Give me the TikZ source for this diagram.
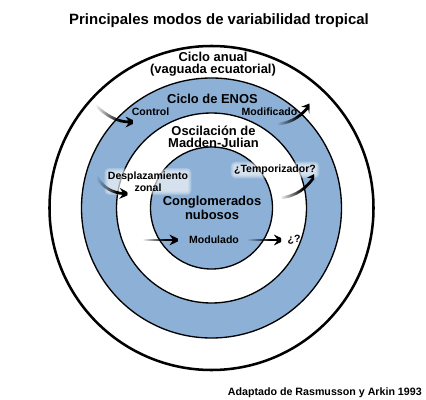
\documentclass[tikz,border=0pt]{standalone}
\usepackage{fontspec}
\setmainfont{Liberation Sans}
\usepackage{tikz}
\usetikzlibrary{arrows.meta,fadings}

\definecolor{ringblue}{RGB}{140,176,214}

% tail of each arrow fades in from the left
\tikzfading[name=arrowfade, left color=transparent!100, right color=transparent!0]

\pgfdeclarelayer{rings}
\pgfdeclarelayer{glow}
\pgfsetlayers{rings,glow,main}

\begin{document}
\begin{tikzpicture}[%
    x=0.75pt, y=-0.75pt,
    every node/.style={
        font=\bfseries\fontsize{9.7}{9}\selectfont,
        align=center,
        inner sep=0pt,
    },
    small/.style={font=\bfseries\fontsize{7.9}{9.4}\selectfont},
    heading/.style={font=\bfseries\fontsize{11.2}{13}\selectfont},
    credit/.style={font=\bfseries\fontsize{8}{9.6}\selectfont, anchor=east},
    ring/.style={draw=black, line width=1pt},
    flow/.style={line width=2.1pt, -{Stealth[length=8.5pt,width=8pt]},
        path fading=arrowfade, fit fading=false},
]

\useasboundingbox (0,0) rectangle (426,400);

% rings, outside in
\begin{pgfonlayer}{rings}
\fill[white] (0,0) rectangle (426,400);
\draw[line width=1.9pt, fill=white] (211.5,208) circle[radius=162];
\draw[ring, fill=ringblue] (211.5,208) circle[radius=130];
\draw[ring, fill=white] (211.5,208) circle[radius=95];
\draw[ring, fill=ringblue] (211.5,208) circle[radius=61];
\end{pgfonlayer}

% labels
\node[heading] (title) at (219,21) {Principales modos de variabilidad tropical};
\node (anual) at (213,64.5) {Ciclo anual\\(vaguada ecuatorial)};
\node (enos) at (212.5,99) {Ciclo de ENOS};
\node[small] (control) at (150.5,112) {Control};
\node[small] (modif) at (269.5,112) {Modificado};
\node (mjo) at (213.5,136.5) {Oscilación de\\Madden-Julian};
\node[small] (despl) at (148,181.5) {Desplazamiento\\zonal};
\node[small] (tempo) at (275,170) {¿Temporizador?};
\node (cong) at (212,208) {Conglomerados\\nubosos};
\node[small] (modul) at (214,240) {Modulado};
\node[small] (unknown) at (294,240) {¿?};
\node[credit] (source) at (422,393) {Adaptado de Rasmusson y Arkin 1993};

% soft white glow behind two labels
\begin{pgfonlayer}{glow}
\foreach \r in {2.5,2,...,-0.5}{
    \fill[white, fill opacity=0.14, rounded corners=\r pt+1pt]
        ([xshift=-\r pt, yshift=-\r pt]despl.south west) rectangle ([xshift=\r pt, yshift=\r pt]despl.north east);
    \fill[white, fill opacity=0.14, rounded corners=\r pt+1pt]
        ([xshift=-\r pt, yshift=-\r pt]tempo.south west) rectangle ([xshift=\r pt, yshift=\r pt]tempo.north east);
}
\end{pgfonlayer}

% free ends of the arrows
\coordinate (controltail) at (95,105);
\coordinate (controlhead) at (137,122);
\coordinate (modiftail) at (277,124);
\coordinate (modifhead) at (313,102);
\coordinate (despltail) at (96,176);
\coordinate (desplhead) at (131,194);
\coordinate (tempotail) at (280,198);
\coordinate (tempohead) at (318,172);
\coordinate (modultail) at (142,240);

% arrows
\draw[flow, fading transform={shift={(107.6,114)}, xscale=0.376}]
    (controltail) .. controls (108,117) and (118,122) .. (controlhead);
\draw[flow, fading transform={shift={(287.8,113)}, xscale=0.322}]
    (modiftail) .. controls (294,123) and (303,113) .. (modifhead);
\draw[flow, fading transform={shift={(106.5,185)}, xscale=0.313}]
    (despltail) .. controls (103,188) and (113,193) .. (desplhead);
\draw[flow, fading transform={shift={(291.4,185)}, xscale=0.34}]
    (tempotail) .. controls (297,196) and (306,188) .. (tempohead);
\draw[flow, fading transform={shift={(154,240)}, xscale=0.358}, shorten >=6pt]
    (modultail) -- (modul.west);
\draw[flow, fading transform={shift={(258.4,240)}, xscale=0.34}, shorten <=6.5pt, shorten >=1.5pt]
    (modul.east) -- (unknown.west);

\end{tikzpicture}
\end{document}
